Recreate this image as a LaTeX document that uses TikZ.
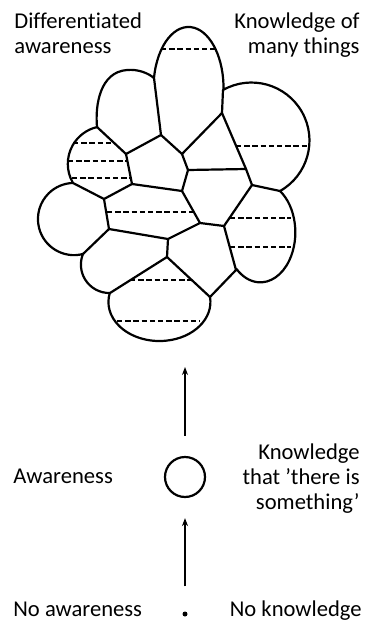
\documentclass[tikz,border=0pt]{standalone}
\usepackage{fontspec}
\setmainfont[Ligatures=NoCommon]{Carlito}
\usetikzlibrary{arrows.meta}
\begin{document}
\begin{tikzpicture}[x=0.5pt,y=-0.5pt,
  edge/.style={line width=1.1pt, line join=round, line cap=round},
  hatch/.style={line width=1.2pt, dash pattern=on 2.7pt off 1.4pt},
  lbl/.style={inner sep=0pt, font=\fontsize{11.3pt}{12.5pt}\selectfont},
  arr/.style={line width=1pt, -{Stealth[length=4pt, width=3pt]}},
  ring/.style={circle, draw, line width=1.1pt, minimum size=20pt, inner sep=0pt},
  dotnode/.style={circle, fill, minimum size=2.5pt, inner sep=0pt}]
\useasboundingbox (0,0) rectangle (366,627);
% vertices of the blob
\coordinate (P1) at (154,78);
\coordinate (P2) at (161,135);
\coordinate (P3) at (126,154);
\coordinate (P4) at (97,127);
\coordinate (P5) at (132,184);
\coordinate (P6) at (73,183);
\coordinate (P7) at (104,199);
\coordinate (P8) at (182,154);
\coordinate (P9) at (188,170);
\coordinate (P10) at (182,191);
\coordinate (P11) at (222,113);
\coordinate (P12) at (223,90);
\coordinate (P13) at (246,169);
\coordinate (P14) at (252,185);
\coordinate (P15) at (280,191);
\coordinate (P16) at (224,226);
\coordinate (P17) at (200,223);
\coordinate (P18) at (168,239);
\coordinate (P19) at (109,229);
\coordinate (P20) at (83,254);
\coordinate (P21) at (167,257);
\coordinate (P22) at (110,293);
\coordinate (P23) at (210,297);
\coordinate (P24) at (236,270);
% outline
\draw[edge] (P1) arc[start angle=170.6, end angle=-1.9, x radius=17.5pt, y radius=30.5pt] -- (P12)
  arc[start angle=119.4, end angle=-60.5, radius=29pt] -- (P15)
  arc[start angle=55.8, end angle=-132.8, x radius=17.5pt, y radius=25pt] -- (P24)
  -- (P23)
  arc[start angle=7.4, end angle=-193.3, x radius=25.5pt, y radius=19.5pt] -- (P22)
  arc[start angle=-88.6, end angle=-202.1, radius=14.2pt] -- (P20)
  arc[start angle=-75.6, end angle=-268.3, radius=18.05pt] -- (P6)
  arc[start angle=210.4, end angle=103.1, radius=18.9pt] -- (P4)
  .. controls (95,105) and (100,72) .. (127,70) .. controls (138,69) and (148,73) .. (P1) -- cycle;
% interior edges
\draw[edge] (P1) -- (P2) -- (P3) -- (P4);
\draw[edge] (P3) -- (P5) -- (P10) -- (P9) -- (P8) -- (P2);
\draw[edge] (P5) -- (P7) -- (P6);
\draw[edge] (P7) -- (P19) -- (P20);
\draw[edge] (P19) -- (P18) -- (P17) -- (P10);
\draw[edge] (P17) -- (P16) -- (P14) -- (P15);
\draw[edge] (P14) -- (P13) -- (P11) -- (P12);
\draw[edge] (P11) -- (P8);
\draw[edge] (P9) -- (P13);
\draw[edge] (P16) -- (P24);
\draw[edge] (P23) -- (P21) -- (P18);
\draw[edge] (P21) -- (P22);
% dashed lines
\draw[hatch] (161,49) -- (215,49);
\draw[hatch] (236,146) -- (309,146);
\draw[hatch] (230,218) -- (291,218);
\draw[hatch] (230,247) -- (291,247);
\draw[hatch] (73,143) -- (112,143);
\draw[hatch] (68,161) -- (127,161);
\draw[hatch] (72,178) -- (131,178);
\draw[hatch] (107,212) -- (193,212);
\draw[hatch] (130,280) -- (192,280);
\draw[hatch] (117,321) -- (200,321);
% lower part
\node[ring] (circ) at (185,477) {};
\node[dotnode] (dot) at (185,614) {};
\coordinate (topend) at (185,367);
\draw[arr, shorten <=10pt] (circ) -- (topend);
\draw[arr, shorten <=12.4pt, shorten >=10pt] (dot) -- (circ);
% labels (base anchor of a multi-line node = last line)
\node[lbl, anchor=base west, align=left] (tl) at (14,53) {Differentiated\\awareness};
\node[lbl, anchor=base east, align=right] (tr) at (360,53) {Knowledge of\\many things};
\node[lbl, anchor=base west] (aw) at (13,483) {Awareness};
\node[lbl, anchor=base east, align=right] (kt) at (360,509) {Knowledge\\that ’there is\\something’};
\node[lbl, anchor=base west] (naw) at (13,616) {No awareness};
\node[lbl, anchor=base east] (nkn) at (362,616) {No knowledge};
\end{tikzpicture}
\end{document}
